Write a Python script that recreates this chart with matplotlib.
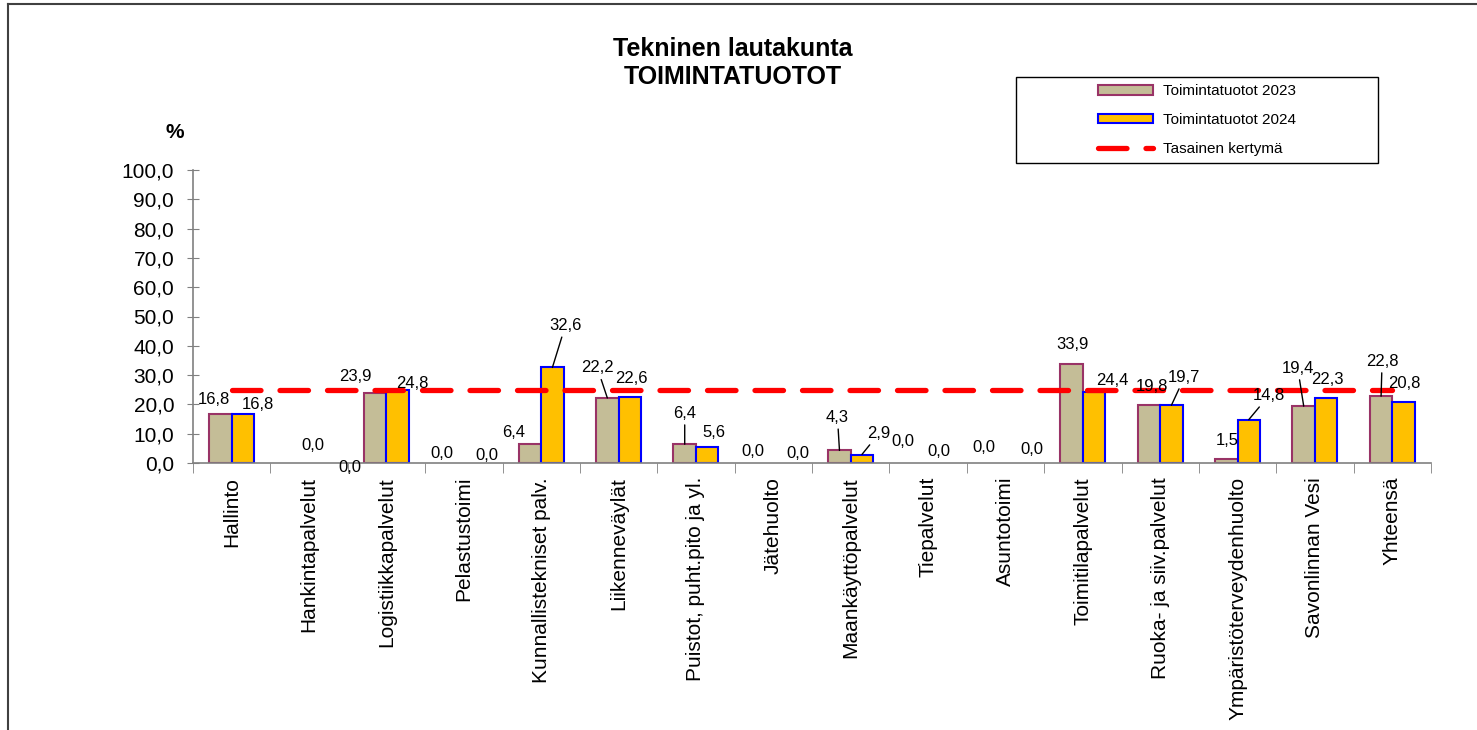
import matplotlib
matplotlib.use("Agg")
import matplotlib.pyplot as plt
from matplotlib.patches import Patch, Rectangle
from matplotlib.lines import Line2D
import numpy as np

plt.rcParams['font.family'] = ['Liberation Sans', 'DejaVu Sans']

# data
categories = ["Hallinto", "Hankintapalvelut", "Logistiikkapalvelut", "Pelastustoimi",
              "Kunnallistekniset palv.", "Liikenneväylät", "Puistot, puht.pito ja yl.",
              "Jätehuolto", "Maankäyttöpalvelut", "Tiepalvelut", "Asuntotoimi",
              "Toimitilapalvelut", "Ruoka- ja siiv.palvelut", "Ympäristöterveydenhuolto",
              "Savonlinnan Vesi", "Yhteensä"]
tuotot_2023 = [16.8, 0.0, 23.9, 0.0, 6.4, 22.2, 6.4, 0.0, 4.3, 0.0, 0.0, 33.9, 19.8, 1.5, 19.4, 22.8]
tuotot_2024 = [16.8, 0.0, 24.8, 0.0, 32.6, 22.6, 5.6, 0.0, 2.9, 0.0, 0.0, 24.4, 19.7, 14.8, 22.3, 20.8]
tasainen = 25.0
y_ticks = [0, 10, 20, 30, 40, 50, 60, 70, 80, 90, 100]

# label placement (pixel offsets from bar top), picked by eye
off_2023 = [(-7, 14), (15, 17), (-20, 16), (-11, 10), (-16, 12), (-10, 30), (0, 31), (-9, 11),
            (-2, 33), (-14, 21), (-10, 15), (1, 19), (3, 18), (1, 18), (-6, 38), (1, 35)]
off_2024 = [(15, 9), (30, -4), (15, 7), (12, 7), (13, 42), (2, 18), (7, 14), (13, 10),
            (17, 21), (0, 11), (15, 13), (18, 11), (13, 28), (20, 24), (1, 18), (1, 19)]
lead_2023 = [5, 6, 8, 14, 15]
lead_2024 = [4, 8, 12, 13]

W, H = 1477, 730
fig = plt.figure(figsize=(W / 100, H / 100), dpi=100)
ax = fig.add_axes([193 / W, 1 - 463 / H, (1431 - 193) / W, (463 - 170) / H])

x = np.arange(len(categories))
bw = 0.29
# no outline for empty bars, like the original
ax.bar(x - bw / 2, tuotot_2023, bw, color='#C4BD97', edgecolor='#993366',
       linewidth=[1.5 if v else 0 for v in tuotot_2023], zorder=2)
ax.bar(x + bw / 2, tuotot_2024, bw, color='#FFC000', edgecolor='#0000FF',
       linewidth=[1.5 if v else 0 for v in tuotot_2024], zorder=2)
ax.plot(x, [tasainen] * len(x), color='#FF0000', lw=3.8,
        linestyle=(0, (5.4, 3.6)), dash_capstyle='round', zorder=3)


def fmt(v):
    return f"{v:.1f}".replace('.', ',')


for vals, offs, leads, sign in [(tuotot_2023, off_2023, lead_2023, -1),
                                 (tuotot_2024, off_2024, lead_2024, 1)]:
    for i, v in enumerate(vals):
        props = None
        if i in leads:
            props = dict(arrowstyle='-', color='black', lw=1, shrinkA=1, shrinkB=0)
        ax.annotate(fmt(v), xy=(i + sign * bw / 2, v), xytext=offs[i],
                    textcoords='offset pixels', ha='center', va='center',
                    fontsize=12, arrowprops=props, zorder=4, annotation_clip=False)

ax.set_xlim(-0.5, len(categories) - 0.5)
ax.set_ylim(0, 100)
ax.set_yticks(y_ticks)
ax.set_yticklabels([fmt(t) for t in y_ticks], fontsize=15)
ax.set_xticks(x)
ax.set_xticklabels(categories, rotation=90, fontsize=15, ha='center', va='top')
ax.set_xticks(np.arange(len(categories) + 1) - 0.5, minor=True)
ax.tick_params(axis='x', which='major', length=0, pad=10)
ax.tick_params(axis='x', which='minor', length=7, direction='out', color='#808080')
ax.tick_params(axis='y', length=9, direction='inout', color='#808080', pad=9)
for s in ['top', 'right']:
    ax.spines[s].set_visible(False)
for s in ['left', 'bottom']:
    ax.spines[s].set_color('#808080')
    ax.spines[s].set_linewidth(1.2)

fig.text(733 / W, 1 - 63 / H, "Tekninen lautakunta\nTOIMINTATUOTOT", ha='center', va='center',
         fontsize=18, fontweight='bold', linespacing=1.2)
fig.text(175 / W, 1 - 133 / H, "%", ha='center', va='center', fontsize=15, fontweight='bold')

handles = [Patch(facecolor='#C4BD97', edgecolor='#993366', linewidth=1.5),
           Patch(facecolor='#FFC000', edgecolor='#0000FF', linewidth=1.5),
           Line2D([0], [0], color='#FF0000', lw=3.8, linestyle=(0, (5.4, 3.6)), dash_capstyle='round')]
fig.legend(handles, ["Toimintatuotot 2023", "Toimintatuotot 2024", "Tasainen kertymä"],
           loc='center', bbox_to_anchor=(1197 / W, 1 - 120 / H), frameon=False, fontsize=11,
           handlelength=3.6, handleheight=0.55, handletextpad=0.6, labelspacing=0.95)
fig.add_artist(Rectangle((1016 / W, 1 - 163 / H), 362 / W, 86 / H, transform=fig.transFigure,
                         fill=False, edgecolor='black', lw=1))

# outer frame (left and top only visible)
fig.add_artist(Line2D([8 / W, 8 / W], [0, 1 - 4 / H], transform=fig.transFigure, color='#404040', lw=1.5))
fig.add_artist(Line2D([8 / W, 1], [1 - 4 / H, 1 - 4 / H], transform=fig.transFigure, color='#404040', lw=1.5))

fig.savefig("out.png", dpi=100)
